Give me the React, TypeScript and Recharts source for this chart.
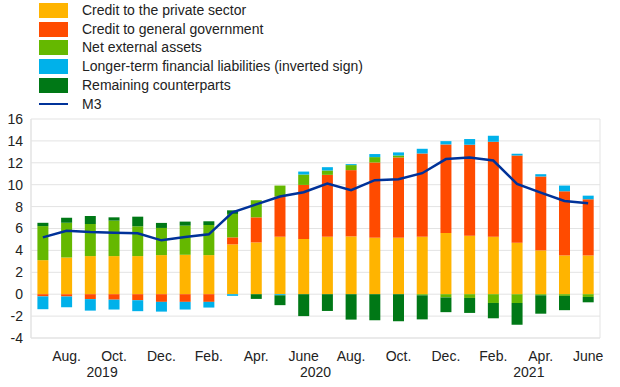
import React from "react";
import {
  ComposedChart,
  Bar,
  Line,
  XAxis,
  YAxis,
  CartesianGrid,
} from "recharts";

const months = [
  "2019-07", "2019-08", "2019-09", "2019-10", "2019-11", "2019-12",
  "2020-01", "2020-02", "2020-03", "2020-04", "2020-05", "2020-06",
  "2020-07", "2020-08", "2020-09", "2020-10", "2020-11", "2020-12",
  "2021-01", "2021-02", "2021-03", "2021-04", "2021-05", "2021-06",
];

const monthLabels = [
  "", "Aug.", "", "Oct.", "", "Dec.",
  "", "Feb.", "", "Apr.", "", "June",
  "", "Aug.", "", "Oct.", "", "Dec.",
  "", "Feb.", "", "Apr.", "", "June",
];

const privateSector = [3.11, 3.36, 3.48, 3.48, 3.48, 3.57, 3.6, 3.57, 4.55, 4.73, 5.25, 5.04, 5.25, 5.28, 5.16, 5.16, 5.25, 5.59, 5.34, 5.25, 4.7, 4.0, 3.54, 3.54];
const generalGov = [-0.2, -0.2, -0.45, -0.5, -0.55, -0.7, -0.7, -0.7, 0.64, 2.29, 3.67, 4.94, 5.65, 6.05, 6.87, 7.33, 7.6, 8.09, 8.31, 8.67, 7.97, 6.75, 5.86, 5.13];
const netExternal = [3.11, 3.17, 2.93, 3.24, 2.72, 2.48, 2.66, 2.75, 2.14, 1.56, 1.0, 0.95, 0.4, 0.46, 0.49, 0.18, -0.1, -0.3, -0.34, -0.8, -0.8, -0.1, -0.15, -0.25];
const longerTerm = [-1.17, -1.0, -1.05, -0.9, -1.0, -0.89, -0.7, -0.52, -0.15, 0, -0.1, 0.27, 0.3, 0.09, 0.28, 0.28, 0.43, 0.3, 0.52, 0.55, 0.15, 0.21, 0.52, 0.33];
const remaining = [0.3, 0.46, 0.73, 0.3, 0.88, 0.46, 0.37, 0.34, 0.33, -0.43, -0.9, -2.0, -1.53, -2.32, -2.38, -2.47, -2.2, -1.34, -1.37, -1.4, -2.0, -1.68, -1.31, -0.49];
const m3 = [5.19, 5.8, 5.68, 5.62, 5.56, 4.92, 5.22, 5.47, 7.48, 8.2, 8.92, 9.31, 10.1, 9.5, 10.41, 10.5, 11.05, 12.34, 12.49, 12.21, 10.08, 9.28, 8.52, 8.3];

const yTicks = [-4, -2, 0, 2, 4, 6, 8, 10, 12, 14, 16];

const seriesNames = {
  privateSector: "Credit to the private sector",
  generalGov: "Credit to general government",
  netExternal: "Net external assets",
  longerTerm: "Longer-term financial liabilities (inverted sign)",
  remaining: "Remaining counterparts",
  m3: "M3",
};

const COLORS = {
  privateSector: "#FFB400",
  generalGov: "#FF4B00",
  netExternal: "#65B800",
  longerTerm: "#00B1EA",
  remaining: "#007816",
  m3: "#003299",
};

const data = months.map((m, i) => ({
  month: m,
  privateSector: privateSector[i],
  generalGov: generalGov[i],
  netExternal: netExternal[i],
  longerTerm: longerTerm[i],
  remaining: remaining[i],
  m3: m3[i],
}));

// year groups derived from months
const years: { year: string; first: number; last: number }[] = [];
months.forEach((m, i) => {
  const y = m.slice(0, 4);
  const g = years.find((g) => g.year === y);
  if (g) g.last = i;
  else years.push({ year: y, first: i, last: i });
});

const W = 620;
const H = 387;
const MARGIN = { top: 119, right: 20, bottom: 0, left: 0 };
const Y_WIDTH = 31;
const BAND = (W - MARGIN.right - MARGIN.left - Y_WIDTH) / months.length;
const FONT = "'Liberation Sans', Arial, Helvetica, sans-serif";

const XTick = (props: any) => {
  const { x, y, index } = props;
  const label = monthLabels[index];
  const yr = years.find((g) => Math.floor((g.first + g.last) / 2) === index);
  return (
    <g>
      {label ? (
        <text x={x} y={y + 23} textAnchor="middle" fontSize={14} fill="#222" fontFamily={FONT}>
          {label}
        </text>
      ) : null}
      {yr ? (
        <text
          x={x + (((yr.first + yr.last) / 2) - index) * BAND}
          y={y + 39}
          textAnchor="middle"
          fontSize={14}
          fill="#222"
          fontFamily={FONT}
        >
          {yr.year}
        </text>
      ) : null}
    </g>
  );
};

const legendKeys = ["privateSector", "generalGov", "netExternal", "longerTerm", "remaining"] as const;

const LegendBox = () => (
  <div style={{ position: "absolute", left: 0, top: 0, fontFamily: FONT, fontSize: 14, color: "#222" }}>
    {legendKeys.map((k, i) => (
      <div key={k} style={{ position: "absolute", left: 39, top: 3 + i * 18.7, height: 15, whiteSpace: "nowrap", display: "flex", alignItems: "center" }}>
        <div style={{ width: 29, height: 15, background: COLORS[k] }} />
        <span style={{ marginLeft: 14, lineHeight: "15px" }}>{seriesNames[k]}</span>
      </div>
    ))}
    <div style={{ position: "absolute", left: 39, top: 3 + 5 * 18.7, height: 15, whiteSpace: "nowrap", display: "flex", alignItems: "center" }}>
      <div style={{ width: 29, height: 2.5, background: COLORS.m3 }} />
      <span style={{ marginLeft: 14, lineHeight: "15px" }}>{seriesNames.m3}</span>
    </div>
  </div>
);

export default function App() {
  return (
    <div style={{ position: "absolute", left: 0, top: 0, width: W, height: H, background: "#fff" }}>
      <ComposedChart width={W} height={H} data={data} margin={MARGIN} stackOffset="sign" barCategoryGap="27%">
        <CartesianGrid
          stroke="#e3e3e3"
          vertical={true}
          verticalCoordinatesGenerator={({ offset }: any) => [offset.left, offset.left + offset.width]}
        />
        <XAxis
          dataKey="month"
          interval={0}
          tick={<XTick />}
          tickLine={false}
          tickSize={0}
          tickMargin={0}
          axisLine={{ stroke: "#e3e3e3" }}
          height={49}
        />
        <YAxis
          domain={[-4, 16]}
          ticks={yTicks}
          interval={0}
          width={Y_WIDTH}
          tickLine={false}
          axisLine={{ stroke: "#e3e3e3" }}
          tick={{ fontSize: 14, fill: "#222", fontFamily: FONT }}
          tickSize={8}
          tickMargin={0}
        />
        {legendKeys.map((k) => (
          <Bar key={k} dataKey={k} name={seriesNames[k]} stackId="s" fill={COLORS[k]} isAnimationActive={false} />
        ))}
        <Line dataKey="m3" name={seriesNames.m3} stroke={COLORS.m3} strokeWidth={2.5} dot={false} activeDot={false} type="linear" isAnimationActive={false} />
      </ComposedChart>
      <LegendBox />
    </div>
  );
}
